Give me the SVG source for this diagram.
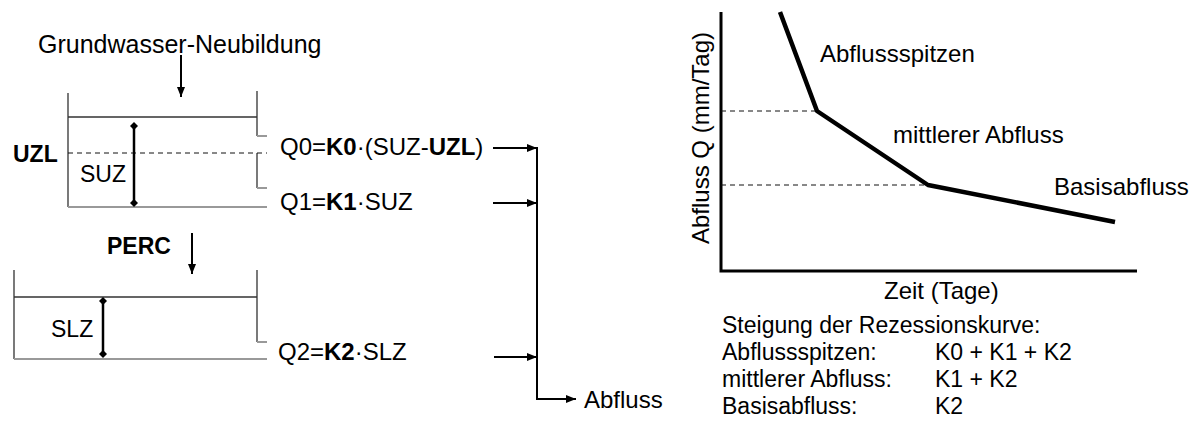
<svg xmlns="http://www.w3.org/2000/svg" width="1196" height="423" viewBox="0 0 1196 423">
<style>
text{font-family:"Liberation Sans",Arial,sans-serif;font-size:24px;fill:#000}
.b{font-weight:bold}
.lbl{font-size:23px}
.leg{font-size:23px}
.tank{stroke:#333;stroke-width:1.3;fill:none}
.grey{stroke:#999;stroke-width:2;fill:none}
.dash{stroke:#111;stroke-width:1;stroke-dasharray:5 4;fill:none}
.conn{stroke:#000;stroke-width:2;fill:none}
.dim{stroke:#000;stroke-width:2.5;fill:none;marker-start:url(#dia);marker-end:url(#dia)}
</style>
<defs>
<marker id="ah" viewBox="0 0 10 8" refX="10" refY="4" markerWidth="10" markerHeight="8" markerUnits="userSpaceOnUse" orient="auto"><path d="M0,0L10,4L0,8z" fill="#000"/></marker>
<marker id="dia" viewBox="0 0 8 8" refX="4" refY="4" markerWidth="8" markerHeight="8" markerUnits="userSpaceOnUse" orient="auto"><path d="M4,0L8,4L4,8L0,4z" fill="#000"/></marker>
</defs>
<rect width="1196" height="423" fill="#fff"/>

<g id="recharge">
<text x="38" y="53" style="font-size:25px">Grundwasser-Neubildung</text>
</g>

<g id="upper-tank">
<path class="tank" d="M68,93V207M257,91V136M68,117H257M257,153V188"/>
<path class="grey" d="M257,136H267M257,188H267M68,207H267"/>
<path class="dash" d="M68,153H267"/>
<line class="dim" x1="134" y1="126" x2="134" y2="203"/>
<text class="b lbl" x="13" y="162">UZL</text>
<text class="lbl" x="80" y="182">SUZ</text>
</g>

<g id="lower-tank">
<path class="tank" d="M14,270V359M257,270V342M14,297H257"/>
<path class="grey" d="M257,342H267M14,359H267"/>
<line class="dim" x1="103" y1="301" x2="103" y2="354"/>
<text class="b lbl" x="107" y="254">PERC</text>
<text class="lbl" x="51" y="337">SLZ</text>
</g>

<g id="outflows">
<text x="280" y="155">Q0=<tspan class="b">K0</tspan>·(SUZ-<tspan class="b">UZL</tspan>)</text>
<text x="280" y="210">Q1=<tspan class="b">K1</tspan>·SUZ</text>
<text x="278" y="360">Q2=<tspan class="b">K2</tspan>·SLZ</text>
<text x="584" y="408">Abfluss</text>
</g>

<g id="connectors">
<line class="conn" x1="181" y1="55" x2="181" y2="97" marker-end="url(#ah)"/>
<line class="conn" x1="192" y1="233" x2="192" y2="274" marker-end="url(#ah)"/>
<line class="conn" x1="493" y1="148" x2="537" y2="148" marker-end="url(#ah)"/>
<line class="conn" x1="493" y1="203" x2="537" y2="203" marker-end="url(#ah)"/>
<line class="conn" x1="494" y1="357" x2="537" y2="357" marker-end="url(#ah)"/>
<path class="conn" d="M537,147V399H576" marker-end="url(#ah)"/>
</g>

<g id="chart">
<path d="M721,12V271H1137" stroke="#000" stroke-width="3" fill="none"/>
<path class="dash" d="M721,111H817M721,185H928"/>
<path d="M780,12L817,111L928,185L1115,222" stroke="#000" stroke-width="4.5" fill="none" stroke-linejoin="round"/>
<text x="820" y="62">Abflussspitzen</text>
<text x="893" y="143">mittlerer Abfluss</text>
<text x="1054" y="195">Basisabfluss</text>
<text transform="translate(709,138) rotate(-90)" text-anchor="middle">Abfluss Q (mm/Tag)</text>
<text x="884" y="299">Zeit (Tage)</text>
</g>

<g id="legend">
<text class="leg" x="722" y="333">Steigung der Rezessionskurve:</text>
<text class="leg" x="722" y="360">Abflussspitzen:</text>
<text class="leg" x="935" y="360">K0 + K1 + K2</text>
<text class="leg" x="722" y="387">mittlerer Abfluss:</text>
<text class="leg" x="935" y="387">K1 + K2</text>
<text class="leg" x="722" y="414">Basisabfluss:</text>
<text class="leg" x="935" y="414">K2</text>
</g>
</svg>
